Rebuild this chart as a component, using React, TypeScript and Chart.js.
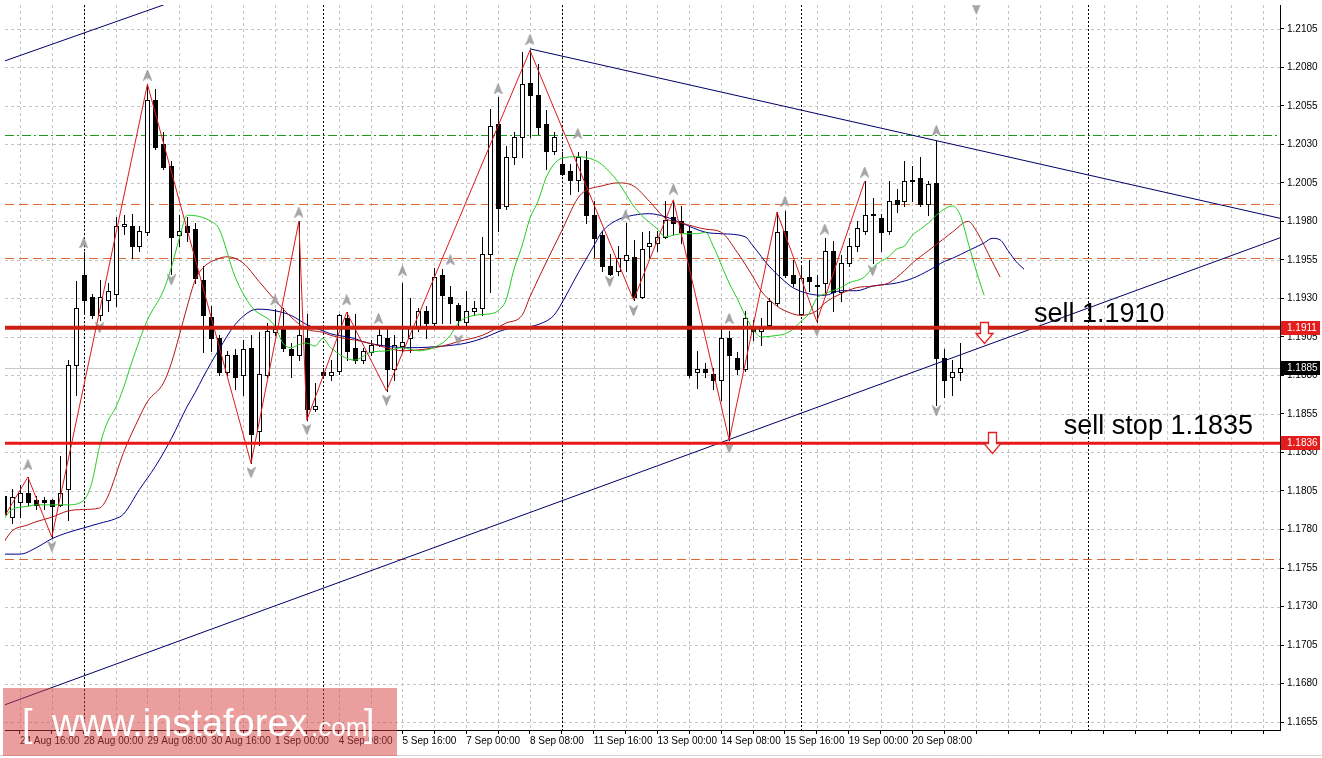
import React, { useEffect, useRef } from "react";
import { Chart, registerables } from "chart.js";

Chart.register(...registerables);

// EURUSD H4 — bar index 0 = 24 Aug 12:00 ... 120 = 21 Sep 08:00
const opens = [
  1.1802, 1.1788, 1.1798, 1.1804, 1.1799, 1.1799, 1.1799, 1.1796, 1.1806, 1.1887,
  1.1945, 1.1931, 1.1919, 1.1929, 1.1933, 1.1977, 1.1977, 1.1964, 1.1973, 1.2059,
  1.2030, 1.2016, 1.1971, 1.1977, 1.1975, 1.1942, 1.1918, 1.1904, 1.1882, 1.1893,
  1.1880, 1.1898, 1.1844, 1.1880, 1.1908, 1.1911, 1.1897, 1.1893, 1.1904, 1.1858,
  1.1882, 1.1880, 1.1883, 1.1917, 1.1898, 1.1890, 1.1895, 1.1900, 1.1904, 1.1884,
  1.1899, 1.1904, 1.1912, 1.1922, 1.1914, 1.1945, 1.1931, 1.1926, 1.1915, 1.1922,
  1.1924, 1.1959, 1.2043, 1.1990, 1.2022, 1.2035, 1.2070, 1.2062, 1.2043, 1.2026,
  1.2017, 1.2013, 1.2007, 1.2020, 1.1984, 1.1971, 1.1951, 1.1948, 1.1955, 1.1957,
  1.1931, 1.1964, 1.1966, 1.1970, 1.1983, 1.1980, 1.1974, 1.1882, 1.1884, 1.1881,
  1.1877, 1.1904, 1.1891, 1.1884, 1.1911, 1.1909, 1.1913, 1.1927, 1.1974, 1.1945,
  1.1920, 1.1944, 1.1939, 1.1940, 1.1961, 1.1934, 1.1953, 1.1964, 1.1974, 1.1985,
  1.1982, 1.1974, 1.1994, 1.1993, 1.2006, 1.2008, 1.1991, 1.2005, 1.1891, 1.1879,
  1.1882,
];
const highs = [
  1.1808, 1.1806, 1.1809, 1.1814, 1.1802, 1.1801, 1.1800, 1.1828, 1.1890, 1.1941,
  1.1960, 1.1933, 1.1942, 1.1940, 1.1983, 1.1984, 1.1985, 1.1977, 1.2069, 1.2066,
  1.2038, 1.2019, 1.1984, 1.1983, 1.1979, 1.1951, 1.1925, 1.1906, 1.1896, 1.1897,
  1.1903, 1.1906, 1.1908, 1.1914, 1.1923, 1.1924, 1.1901, 1.1980, 1.1920, 1.1875,
  1.1885, 1.1890, 1.1920, 1.1921, 1.1920, 1.1898, 1.1903, 1.1911, 1.1910, 1.1906,
  1.1940, 1.1930, 1.1924, 1.1925, 1.1950, 1.1949, 1.1938, 1.1927, 1.1935, 1.1928,
  1.1970, 1.2053, 1.2061, 1.2029, 1.2038, 1.2090, 1.2091, 1.2082, 1.2052, 1.2038,
  1.2025, 1.2017, 1.2025, 1.2026, 1.1993, 1.1974, 1.1959, 1.1964, 1.1979, 1.1968,
  1.1973, 1.1974, 1.1974, 1.1993, 1.1994, 1.1990, 1.1977, 1.1896, 1.1888, 1.1885,
  1.1910, 1.1909, 1.1895, 1.1922, 1.1916, 1.1917, 1.1930, 1.1986, 1.1987, 1.1955,
  1.1951, 1.1955, 1.1945, 1.1969, 1.1967, 1.1958, 1.1969, 1.1980, 1.2006, 1.1995,
  1.1985, 1.2006, 1.2001, 1.2019, 1.2016, 1.2022, 1.2006, 1.2032, 1.1897, 1.1890,
  1.1901,
];
const lows = [
  1.1785, 1.1784, 1.1788, 1.1796, 1.1793, 1.1793, 1.1775, 1.1795, 1.1786, 1.1867,
  1.1920, 1.1917, 1.1916, 1.1922, 1.1925, 1.1972, 1.1956, 1.1961, 1.1971, 1.2027,
  1.2014, 1.1946, 1.1964, 1.1967, 1.1940, 1.1895, 1.1896, 1.1880, 1.1880, 1.1871,
  1.1867, 1.1823, 1.1835, 1.1879, 1.1906, 1.1896, 1.1879, 1.1890, 1.1851, 1.1857,
  1.1879, 1.1877, 1.1881, 1.1890, 1.1888, 1.1888, 1.1893, 1.1899, 1.1870, 1.1877,
  1.1895, 1.1895, 1.1909, 1.1904, 1.1911, 1.1914, 1.1914, 1.1911, 1.1912, 1.1919,
  1.1919, 1.1934, 1.1974, 1.1988, 1.2017, 1.2022, 1.2035, 1.2037, 1.2014, 1.2024,
  1.2010, 1.1998, 1.2000, 1.1979, 1.1957, 1.1948, 1.1945, 1.1945, 1.1948, 1.1929,
  1.1930, 1.1957, 1.1961, 1.1969, 1.1972, 1.1966, 1.1879, 1.1872, 1.1879, 1.1871,
  1.1864, 1.1838, 1.1881, 1.1883, 1.1903, 1.1900, 1.1911, 1.1926, 1.1944, 1.1938,
  1.1919, 1.1935, 1.1915, 1.1932, 1.1922, 1.1928, 1.1951, 1.1961, 1.1972, 1.1953,
  1.1961, 1.1972, 1.1986, 1.1990, 1.1993, 1.1990, 1.1984, 1.1861, 1.1866, 1.1867,
  1.1877,
];
const closes = [
  1.1790, 1.1801, 1.1804, 1.1798, 1.1796, 1.1798, 1.1795, 1.1804, 1.1887, 1.1924,
  1.1929, 1.1919, 1.1931, 1.1935, 1.1977, 1.1978, 1.1964, 1.1974, 1.2059, 1.2028,
  1.2015, 1.1970, 1.1974, 1.1973, 1.1943, 1.1919, 1.1904, 1.1882, 1.1893, 1.1879,
  1.1897, 1.1842, 1.1881, 1.1909, 1.1910, 1.1898, 1.1893, 1.1906, 1.1858, 1.1860,
  1.1880, 1.1882, 1.1919, 1.1896, 1.1890, 1.1896, 1.1900, 1.1906, 1.1884, 1.1900,
  1.1902, 1.1912, 1.1922, 1.1914, 1.1944, 1.1932, 1.1927, 1.1916, 1.1922, 1.1924,
  1.1959, 1.2042, 1.1989, 1.2022, 1.2035, 1.2069, 1.2062, 1.2041, 1.2026, 1.2035,
  1.2011, 1.2007, 1.2022, 1.1984, 1.1969, 1.1951, 1.1946, 1.1956, 1.1958, 1.1931,
  1.1962, 1.1966, 1.1970, 1.1981, 1.1979, 1.1973, 1.1880, 1.1884, 1.1882, 1.1877,
  1.1904, 1.1893, 1.1884, 1.1917, 1.1909, 1.1911, 1.1928, 1.1973, 1.1945, 1.1940,
  1.1943, 1.1941, 1.1938, 1.1961, 1.1934, 1.1953, 1.1964, 1.1976, 1.1984, 1.1984,
  1.1973, 1.1993, 1.1991, 1.2006, 1.2007, 1.1991, 1.2004, 1.1891, 1.1877, 1.1882,
  1.1885,
];

// Alligator lines: [bar index, price]
const lips: [number, number][] = [
  [0, 1.1787], [1, 1.1793], [3, 1.1795], [4, 1.1796], [6, 1.1796], [8, 1.1796], [10, 1.1799], [11, 1.181],
  [12, 1.1834], [13, 1.185], [14, 1.1859], [15, 1.1872], [16, 1.1888], [18, 1.1916], [20, 1.1935], [21, 1.195],
  [22, 1.1969], [23, 1.1984], [26, 1.198], [27, 1.1975], [29, 1.1944], [31, 1.1925], [34, 1.1912], [35, 1.1901],
  [36, 1.1898], [37, 1.19], [38, 1.1901], [39, 1.1899], [40, 1.1904], [41, 1.1898], [44, 1.189], [46, 1.1895],
  [48, 1.1896], [50, 1.1898], [52, 1.1896], [55, 1.1901], [56, 1.1906], [57, 1.1914], [59, 1.1919], [61, 1.192],
  [62, 1.1922], [63, 1.1929], [64, 1.1949], [65, 1.1964], [66, 1.1982], [67, 1.1993], [68, 1.2008], [69, 1.2017],
  [70, 1.2021], [72, 1.2022], [74, 1.202], [75, 1.2017], [77, 1.2006], [78, 1.1998], [79, 1.199], [80, 1.1984],
  [82, 1.1975], [83, 1.197], [85, 1.1972], [87, 1.1972], [88, 1.1973], [89, 1.1964], [90, 1.1952], [91, 1.194],
  [92, 1.193], [93, 1.1919], [94, 1.191], [95, 1.1905], [97, 1.1906], [98, 1.1907], [99, 1.191], [100, 1.1915],
  [101, 1.192], [102, 1.193], [103, 1.1933], [105, 1.1937], [106, 1.194], [108, 1.1944], [109, 1.195], [110, 1.1954],
  [111, 1.1957], [112, 1.1962], [113, 1.1964], [114, 1.1971], [115, 1.1975], [116, 1.1979], [117, 1.1984], [118, 1.1988],
  [119, 1.199], [120, 1.1984], [121, 1.1966], [122, 1.1948], [123, 1.1932],
];
const teeth: [number, number][] = [
  [0, 1.1772], [1, 1.1779], [3, 1.1783], [4, 1.1785], [6, 1.1788], [8, 1.1792], [10, 1.1793], [12, 1.1794],
  [13, 1.1801], [14, 1.1815], [15, 1.183], [17, 1.1853], [18, 1.1863], [20, 1.1875], [21, 1.1888], [22, 1.1906],
  [23, 1.1925], [24, 1.1942], [25, 1.195], [27, 1.1956], [28, 1.1957], [30, 1.1953], [32, 1.1941], [34, 1.1929],
  [36, 1.1918], [38, 1.191], [40, 1.1908], [41, 1.1906], [45, 1.1902], [48, 1.1898], [50, 1.1896], [55, 1.1899],
  [57, 1.1902], [60, 1.1906], [63, 1.1914], [65, 1.1919], [66, 1.1931], [68, 1.1953], [70, 1.1974], [72, 1.1995],
  [73, 1.2], [75, 1.2003], [77, 1.2005], [79, 1.2003], [81, 1.1993], [83, 1.1982], [85, 1.1979], [88, 1.1975],
  [90, 1.1973], [92, 1.196], [94, 1.1944], [95, 1.1935], [97, 1.1925], [98, 1.1922], [100, 1.1919], [102, 1.1922],
  [103, 1.1927], [105, 1.1933], [107, 1.1937], [109, 1.1938], [111, 1.194], [113, 1.1948], [114, 1.1953], [116, 1.1961],
  [118, 1.1969], [119, 1.1973], [121, 1.198], [122, 1.1974], [124, 1.1954], [125, 1.1944],
];
const jaw: [number, number][] = [
  [0, 1.1764], [2, 1.1764], [4, 1.1768], [5, 1.1771], [6, 1.1774], [8, 1.1778], [10, 1.1781], [12, 1.1784],
  [14, 1.1787], [15, 1.179], [17, 1.1806], [19, 1.1821], [21, 1.1839], [23, 1.186], [24, 1.1869], [25, 1.1879],
  [27, 1.1897], [29, 1.1913], [31, 1.1922], [32, 1.1923], [34, 1.1922], [36, 1.1919], [38, 1.1913], [40, 1.1909],
  [41, 1.1907], [44, 1.1904], [45, 1.1902], [48, 1.1899], [51, 1.1898], [55, 1.1899], [58, 1.1901], [60, 1.1904],
  [63, 1.191], [65, 1.1911], [67, 1.1913], [69, 1.1919], [70, 1.1927], [72, 1.1946], [74, 1.1964], [75, 1.1973],
  [77, 1.1981], [79, 1.1984], [81, 1.1985], [83, 1.1983], [85, 1.1979], [88, 1.1973], [90, 1.1972], [93, 1.197],
  [94, 1.1964], [96, 1.1951], [98, 1.1941], [99, 1.1937], [101, 1.1933], [103, 1.1932], [105, 1.1935], [107, 1.1935],
  [109, 1.1938], [112, 1.194], [114, 1.1943], [116, 1.1948], [118, 1.1954], [119, 1.1956], [121, 1.1961], [123, 1.1966],
  [124, 1.1969], [125, 1.1968], [126, 1.1961], [127, 1.1954], [128, 1.1949],
];

// ZigZag vertices
const zigzagBars = [0, 3, 6, 18, 31, 37, 38, 43, 48, 66, 79, 84, 91, 97, 102, 108];
const zigzagPrices = [1.1788, 1.1814, 1.1775, 1.2069, 1.1823, 1.198, 1.1851, 1.1921, 1.187, 1.2091, 1.1929, 1.1994, 1.1838, 1.1986, 1.1915, 1.2006];

// Fractals
const fractalUpBars = [3, 10, 18, 34, 37, 43, 47, 50, 56, 62, 66, 72, 78, 84, 91, 98, 103, 108, 117];
const fractalUpPrices = [1.1822, 1.1966, 1.2075, 1.1929, 1.1986, 1.1929, 1.1917, 1.1948, 1.1955, 1.2066, 1.2098, 1.2037, 1.1984, 1.2001, 1.1917, 1.1993, 1.1975, 1.2012, 1.2039];
const fractalDownBars = [6, 12, 21, 31, 38, 48, 57, 76, 79, 91, 102, 109, 117, 122];
const fractalDownPrices = [1.1769, 1.1911, 1.1942, 1.1817, 1.1845, 1.1864, 1.1903, 1.1941, 1.1922, 1.1833, 1.1909, 1.1948, 1.1857, 1.2118];

// Trend lines: [bar, price] endpoints
const trendUpperLeft: [number, number][] = [[0, 1.2084], [40, 1.2157]];
const trendFalling: [number, number][] = [[66, 1.2092], [161, 1.1981]];
const trendRising: [number, number][] = [[0, 1.1666], [161, 1.1971]];

// Horizontal levels
const greenLevel = 1.2036;
const orangeLevels = [1.1991, 1.1956, 1.1761];
const sellLevel = 1.1911;
const sellStopLevel = 1.1836;
const lastPrice = 1.1885;

// Axes
const priceTicks = [
  1.1655, 1.168, 1.1705, 1.173, 1.1755, 1.178, 1.1805, 1.183, 1.1855, 1.188,
  1.1905, 1.193, 1.1955, 1.198, 1.2005, 1.203, 1.2055, 1.208, 1.2105,
];
const timeLabelBars = [2, 10, 18, 26, 34, 42, 50, 58, 66, 74, 82, 90, 98, 106, 114];
const timeLabels = [
  "24 Aug 16:00", "28 Aug 00:00", "29 Aug 08:00", "30 Aug 16:00", "1 Sep 00:00",
  "4 Sep 08:00", "5 Sep 16:00", "7 Sep 00:00", "8 Sep 08:00", "11 Sep 16:00",
  "13 Sep 00:00", "14 Sep 08:00", "15 Sep 16:00", "19 Sep 00:00", "20 Sep 08:00",
];
const separatorBars = [10, 40, 70, 100, 136];

// Annotations
const textNotes = [
  { text: "sell 1.1910", bar: 129.25, price: 1.1915 },
  { text: "sell stop 1.1835", bar: 133, price: 1.1842 },
];
const arrowNotes = [
  { bar: 123, price: 1.1915 },
  { bar: 124, price: 1.1843 },
];

const X_MIN = 0.125;
const X_MAX = 160.125;
const Y_MIN = 1.164984;
const Y_MAX = 1.212047;
const FONT = "'Liberation Sans', Arial, sans-serif";

const gridBars: number[] = [];
for (let b = 2; b <= 158; b += 4) gridBars.push(b);

function makeArrow(up: boolean): HTMLCanvasElement {
  const c = document.createElement("canvas");
  c.width = 9;
  c.height = 11;
  const g = c.getContext("2d")!;
  g.beginPath();
  if (up) {
    g.moveTo(4.5, 0.5);
    g.lineTo(8.5, 10.5);
    g.lineTo(4.5, 7.5);
    g.lineTo(0.5, 10.5);
  } else {
    g.moveTo(4.5, 10.5);
    g.lineTo(8.5, 0.5);
    g.lineTo(4.5, 3.5);
    g.lineTo(0.5, 0.5);
  }
  g.closePath();
  g.fillStyle = "#a8a8a8";
  g.fill();
  g.strokeStyle = "#8e8e8e";
  g.lineWidth = 0.8;
  g.stroke();
  return c;
}

const mt4Plugin = {
  id: "mt4",
  beforeDraw(chart: any) {
    const { ctx, width, height } = chart;
    ctx.save();
    ctx.fillStyle = "#ffffff";
    ctx.fillRect(0, 0, width, height);
    ctx.restore();
  },
  beforeDatasetsDraw(chart: any) {
    const { ctx, chartArea: a } = chart;
    const X = chart.scales.x;
    const Y = chart.scales.y;
    ctx.save();
    ctx.beginPath();
    ctx.rect(a.left, a.top, a.right - a.left, a.bottom - a.top);
    ctx.clip();

    // grid
    ctx.strokeStyle = "#c4c4c4";
    ctx.lineWidth = 1;
    ctx.setLineDash([3, 3]);
    for (const v of priceTicks) {
      const py = Math.round(Y.getPixelForValue(v)) + 0.5;
      ctx.beginPath();
      ctx.moveTo(a.left, py);
      ctx.lineTo(a.right, py);
      ctx.stroke();
    }
    for (const b of gridBars) {
      const px = Math.round(X.getPixelForValue(b)) + 0.5;
      ctx.beginPath();
      ctx.moveTo(px, a.top);
      ctx.lineTo(px, a.bottom);
      ctx.stroke();
    }

    // period separators
    ctx.strokeStyle = "#000000";
    ctx.setLineDash([2, 2]);
    for (const b of separatorBars) {
      const px = Math.round(X.getPixelForValue(b)) + 0.5;
      ctx.beginPath();
      ctx.moveTo(px, a.top);
      ctx.lineTo(px, a.bottom);
      ctx.stroke();
    }

    // dashed levels
    const hline = (p: number, color: string, dash: number[]) => {
      const py = Math.round(Y.getPixelForValue(p)) + 0.5;
      ctx.strokeStyle = color;
      ctx.setLineDash(dash);
      ctx.beginPath();
      ctx.moveTo(a.left, py);
      ctx.lineTo(a.right, py);
      ctx.stroke();
    };
    hline(greenLevel, "#1e9a1e", [9, 3, 2, 3]);
    for (const p of orangeLevels) hline(p, "#dd6a35", [9, 5]);
    ctx.setLineDash([]);
    hline(lastPrice, "#c8c8c8", []);

    // candles
    ctx.setLineDash([]);
    for (let i = 0; i < opens.length; i++) {
      const px = Math.round(X.getPixelForValue(i));
      const yh = Math.round(Y.getPixelForValue(highs[i]));
      const yl = Math.round(Y.getPixelForValue(lows[i]));
      const yo = Math.round(Y.getPixelForValue(opens[i]));
      const yc = Math.round(Y.getPixelForValue(closes[i]));
      ctx.fillStyle = "#000000";
      ctx.fillRect(px, yh, 1, yl - yh + 1);
      const top = Math.min(yo, yc);
      const bot = Math.max(yo, yc);
      if (closes[i] >= opens[i]) {
        if (bot - top < 2) {
          ctx.fillRect(px - 2, top, 5, Math.max(1, bot - top + 1));
        } else {
          ctx.fillStyle = "#ffffff";
          ctx.fillRect(px - 2, top, 5, bot - top + 1);
          ctx.strokeStyle = "#000000";
          ctx.lineWidth = 1;
          ctx.strokeRect(px - 1.5, top + 0.5, 4, bot - top);
        }
      } else {
        ctx.fillRect(px - 2, top, 5, Math.max(1, bot - top + 1));
      }
    }
    ctx.restore();
  },
  afterDatasetsDraw(chart: any) {
    const { ctx, chartArea: a } = chart;
    const X = chart.scales.x;
    const Y = chart.scales.y;
    ctx.save();
    ctx.beginPath();
    ctx.rect(a.left, a.top, a.right - a.left, a.bottom - a.top);
    ctx.clip();

    // thick red order lines
    const thick = (p: number, color: string, w: number) => {
      const py = Y.getPixelForValue(p);
      ctx.strokeStyle = color;
      ctx.lineWidth = w;
      ctx.setLineDash([]);
      ctx.beginPath();
      ctx.moveTo(a.left, py);
      ctx.lineTo(a.right, py);
      ctx.stroke();
    };
    thick(sellLevel, "#cc2012", 4);
    thick(sellStopLevel, "#e81818", 3);

    // red hollow arrows
    for (const n of arrowNotes) {
      const cx = Math.round(X.getPixelForValue(n.bar)) + 0.5;
      const t = Math.round(Y.getPixelForValue(n.price)) + 0.5;
      ctx.beginPath();
      ctx.moveTo(cx - 4, t);
      ctx.lineTo(cx + 4, t);
      ctx.lineTo(cx + 4, t + 11);
      ctx.lineTo(cx + 8.5, t + 11);
      ctx.lineTo(cx, t + 21);
      ctx.lineTo(cx - 8.5, t + 11);
      ctx.lineTo(cx - 4, t + 11);
      ctx.closePath();
      ctx.fillStyle = "#ffffff";
      ctx.fill();
      ctx.strokeStyle = "#e02020";
      ctx.lineWidth = 1.3;
      ctx.stroke();
    }

    // texts
    ctx.fillStyle = "#000000";
    ctx.font = `27px ${FONT}`;
    ctx.textBaseline = "alphabetic";
    ctx.textAlign = "left";
    for (const n of textNotes) {
      ctx.fillText(n.text, X.getPixelForValue(n.bar), Y.getPixelForValue(n.price));
    }
    ctx.restore();
  },
  afterDraw(chart: any) {
    const { ctx, chartArea: a, width } = chart;
    const Y = chart.scales.y;
    ctx.save();
    // price tags on the axis
    const tag = (p: number, bg: string) => {
      const py = Math.round(Y.getPixelForValue(p));
      ctx.fillStyle = bg;
      ctx.fillRect(a.right + 1, py - 7, 39, 14);
      ctx.fillStyle = "#ffffff";
      ctx.font = `10px ${FONT}`;
      ctx.textBaseline = "middle";
      ctx.textAlign = "left";
      ctx.fillText(p.toFixed(4), a.right + 7, py + 0.5);
    };
    tag(sellLevel, "#e41c1c");
    tag(sellStopLevel, "#e41c1c");
    tag(lastPrice, "#000000");

    // bottom frame line
    ctx.strokeStyle = "#d4d4d4";
    ctx.lineWidth = 1;
    ctx.beginPath();
    ctx.moveTo(0, 755.5);
    ctx.lineTo(width, 755.5);
    ctx.stroke();

    // watermark
    ctx.fillStyle = "rgba(214, 62, 62, 0.5)";
    ctx.fillRect(3, 688, 394, 68);
    ctx.fillStyle = "#ffffff";
    ctx.textBaseline = "alphabetic";
    ctx.textAlign = "left";
    ctx.font = `38px ${FONT}`;
    ctx.fillText("[", 22, 736);
    ctx.fillText("www.instaforex", 52, 736);
    ctx.font = `26px ${FONT}`;
    ctx.fillText(".com", 311, 736);
    ctx.font = `38px ${FONT}`;
    ctx.fillText("]", 364, 736);
    ctx.restore();
  },
};

export default function App() {
  const ref = useRef<HTMLCanvasElement>(null);

  useEffect(() => {
    const canvas = ref.current;
    if (!canvas) return;
    const arrowUp = makeArrow(true);
    const arrowDown = makeArrow(false);
    const pts = (arr: [number, number][]) => arr.map(([x, y]) => ({ x, y }));
    const zip = (xs: number[], ys: number[]) => xs.map((x, i) => ({ x, y: ys[i] }));

    const chart = new Chart(canvas, {
      type: "line",
      data: {
        datasets: [
          {
            label: "Fractals up",
            data: zip(fractalUpBars, fractalUpPrices),
            showLine: false,
            pointStyle: arrowUp as any,
            pointRadius: 5,
            borderWidth: 0,
          },
          {
            label: "Fractals down",
            data: zip(fractalDownBars, fractalDownPrices),
            showLine: false,
            pointStyle: arrowDown as any,
            pointRadius: 5,
            borderWidth: 0,
          },
          {
            label: "ZigZag",
            data: zip(zigzagBars, zigzagPrices),
            borderColor: "#dd1a1a",
            borderWidth: 1,
            pointRadius: 0,
            tension: 0,
          },
          {
            label: "Lips",
            data: pts(lips),
            borderColor: "#22cc22",
            borderWidth: 1,
            pointRadius: 0,
            cubicInterpolationMode: "monotone",
          },
          {
            label: "Teeth",
            data: pts(teeth),
            borderColor: "#b31515",
            borderWidth: 1,
            pointRadius: 0,
            cubicInterpolationMode: "monotone",
          },
          {
            label: "Jaw",
            data: pts(jaw),
            borderColor: "#00008b",
            borderWidth: 1,
            pointRadius: 0,
            cubicInterpolationMode: "monotone",
          },
          {
            label: "Trend 1",
            data: pts(trendUpperLeft),
            borderColor: "#000066",
            borderWidth: 1,
            pointRadius: 0,
          },
          {
            label: "Trend 2",
            data: pts(trendFalling),
            borderColor: "#000066",
            borderWidth: 1,
            pointRadius: 0,
          },
          {
            label: "Trend 3",
            data: pts(trendRising),
            borderColor: "#000066",
            borderWidth: 1,
            pointRadius: 0,
          },
        ],
      },
      options: {
        responsive: false,
        animation: false,
        devicePixelRatio: 1,
        events: [],
        layout: { padding: 0 },
        plugins: {
          legend: { display: false },
          tooltip: { enabled: false },
        },
        scales: {
          x: {
            type: "linear",
            position: "bottom",
            min: X_MIN,
            max: X_MAX,
            bounds: "data",
            afterBuildTicks: (s: any) => {
              s.ticks = gridBars.map((v) => ({ value: v }));
            },
            afterFit: (s: any) => {
              s.height = 28;
              s.paddingLeft = 0;
              s.paddingRight = 0;
            },
            ticks: {
              autoSkip: false,
              maxRotation: 0,
              minRotation: 0,
              align: "start",
              padding: 1,
              color: "#000000",
              font: { family: FONT, size: 10 },
              callback: (v: any) => {
                const i = timeLabelBars.indexOf(Number(v));
                return i >= 0 ? timeLabels[i] : "";
              },
            },
            grid: {
              display: true,
              drawOnChartArea: false,
              drawTicks: true,
              tickLength: 4,
              tickColor: "#000000",
            },
            border: { display: true, color: "#000000", width: 1 },
          },
          y: {
            type: "linear",
            position: "right",
            min: Y_MIN,
            max: Y_MAX,
            bounds: "data",
            afterBuildTicks: (s: any) => {
              s.ticks = priceTicks.map((v) => ({ value: v }));
            },
            afterFit: (s: any) => {
              s.width = 42;
              s.paddingTop = 0;
              s.paddingBottom = 0;
            },
            ticks: {
              padding: 3,
              color: "#000000",
              font: { family: FONT, size: 10 },
              callback: (v: any) => Number(v).toFixed(4),
            },
            grid: {
              display: true,
              drawOnChartArea: false,
              drawTicks: true,
              tickLength: 4,
              tickColor: "#000000",
            },
            border: { display: true, color: "#000000", width: 1 },
          },
        },
      } as any,
      plugins: [mt4Plugin],
    });
    return () => chart.destroy();
  }, []);

  return (
    <div style={{ position: "absolute", left: 0, top: 0, width: 1322, height: 758, background: "#ffffff" }}>
      <canvas ref={ref} width={1322} height={758} style={{ display: "block", width: 1322, height: 758 }} />
    </div>
  );
}
